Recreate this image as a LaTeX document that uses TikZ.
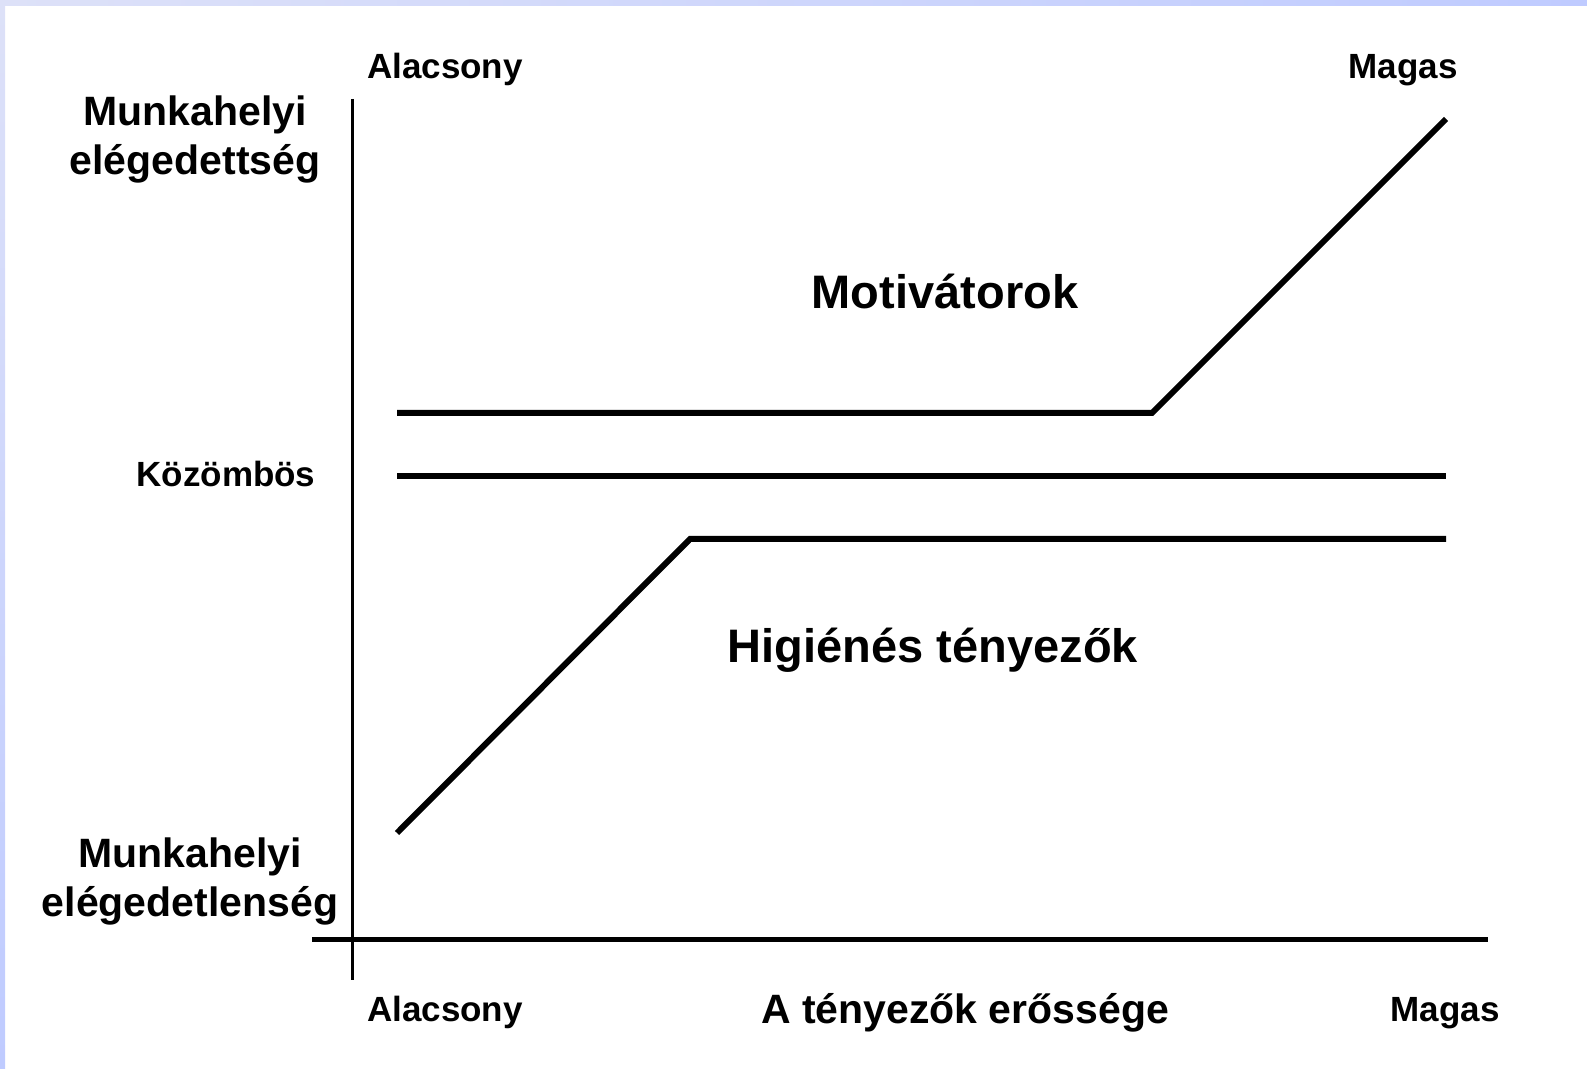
\documentclass[tikz,border=0pt]{standalone}
\usepackage{fontspec}
\setmainfont{Liberation Sans}
\usetikzlibrary{positioning}

\definecolor{bandlight}{HTML}{DDE1F8}
\definecolor{banddark}{HTML}{BFCBFF}

\begin{document}
\begin{tikzpicture}[x=0.5pt, y=-0.5pt,
smalllabel/.style={font=\bfseries\fontsize{17.5}{21}\selectfont, anchor=base, inner sep=0pt},
axislabel/.style={font=\bfseries\fontsize{20.5}{24.5}\selectfont, anchor=base, align=center, inner sep=0pt},
biglabel/.style={font=\bfseries\fontsize{23.5}{28}\selectfont, anchor=base, inner sep=0pt},
curve/.style={line width=3pt, line join=miter},
]
\useasboundingbox (0,0) rectangle (1587,1069);
%Frame
\shade[left color=bandlight, right color=banddark] (0,0) rectangle (1587,6);
\shade[top color=bandlight, bottom color=banddark] (0,0) rectangle (5,1069);

%Nodes
\node[smalllabel] (lowtop)   at (445,79)   {Alacsony};
\node[smalllabel] (hightop)  at (1403,79)  {Magas};
\node[axislabel]  (satisf)   at (195,175)  {Munkahelyi\\elégedettség};
\node[smalllabel] (neutral)  at (226,487)  {Közömbös};
\node[biglabel]   (motiv)    at (945,309)  {Motivátorok};
\node[biglabel]   (hygiene)  at (933,663)  {Higiénés tényezők};
\node[axislabel]  (dissat)   at (190,916)  {Munkahelyi\\elégedetlenség};
\node[smalllabel] (lowbot)   at (445,1021) {Alacsony};
\node[axislabel]  (strength) at (965,1023) {A tényezők erőssége};
\node[smalllabel] (highbot)  at (1445,1021) {Magas};

%Axes
\coordinate (ytop) at (352,99);
\coordinate (ybot) at (352,980);
\coordinate (xleft) at (312,939);
\coordinate (xright) at (1488,939);
\draw[line width=1.5pt] (ytop) -- (ybot);
\draw[line width=2.5pt] (xleft) -- (xright);

%Lines
\coordinate (m1) at (397,413);
\coordinate (m2) at (1152,413);
\coordinate (m3) at (1446,119);
\coordinate (k1) at (397,476);
\coordinate (k2) at (1446,476);
\coordinate (h1) at (397,833);
\coordinate (h2) at (690,539);
\coordinate (h3) at (1446,539);
\draw[curve] (m1) -- (m2) -- (m3);
\draw[curve] (k1) -- (k2);
\draw[curve] (h1) -- (h2) -- (h3);
\end{tikzpicture}
\end{document}
